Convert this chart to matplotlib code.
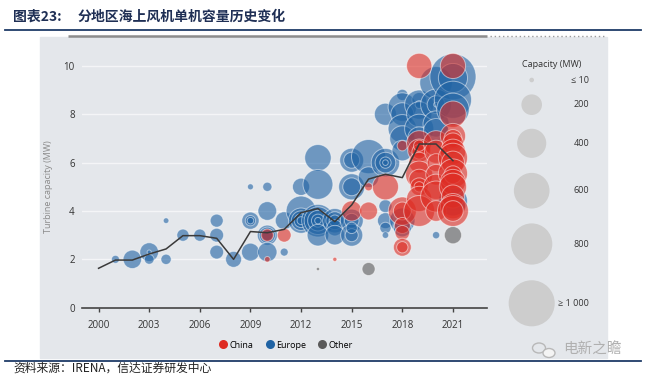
"""分地区海上风机单机容量历史变化 - bubble chart"""
import matplotlib
matplotlib.use('Agg')
import matplotlib.pyplot as plt
from matplotlib.lines import Line2D
from matplotlib.patches import Ellipse
import numpy as np

plt.rcParams['font.family'] = ['Open Sans', 'DejaVu Sans']

# ── data: (year, turbine MW, farm capacity MW) ──
europe = [
    (2001, 2.0, 30), (2002, 2.0, 160), (2003, 2.3, 165), (2003, 2.0, 45), (2003, 2.3, 8),
    (2004, 2.0, 50), (2004, 3.6, 15), (2005, 3.0, 70), (2006, 3.0, 70),
    (2007, 3.6, 80), (2007, 3.0, 90), (2007, 2.3, 90), (2008, 2.0, 120),
    (2009, 5.0, 17), (2009, 3.6, 140), (2009, 3.6, 50), (2009, 3.6, 20), (2009, 2.3, 150),
    (2010, 5.0, 40), (2010, 4.0, 165), (2010, 3.0, 190), (2010, 3.0, 120), (2010, 3.0, 60),
    (2010, 2.3, 175), (2011, 3.6, 150), (2011, 2.3, 30),
    (2012, 5.0, 140), (2012, 4.0, 420), (2012, 3.6, 300), (2012, 3.6, 180), (2012, 3.6, 90),
    (2012, 3.6, 30), (2013, 6.2, 330), (2013, 5.1, 420), (2013, 3.6, 500), (2013, 3.6, 360),
    (2013, 3.6, 200), (2013, 3.6, 80), (2013, 3.0, 220), (2013, 3.6, 20),
    (2014, 3.6, 280), (2014, 3.6, 150), (2014, 3.6, 60), (2014, 3.3, 120), (2014, 3.0, 180),
    (2015, 6.1, 270), (2015, 6.1, 120), (2015, 5.0, 320), (2015, 5.0, 150), (2015, 3.6, 250),
    (2015, 3.6, 100), (2015, 3.0, 230), (2015, 3.0, 80), (2015, 3.3, 60),
    (2016, 6.25, 550), (2016, 5.4, 200),
    (2017, 8.0, 230), (2017, 6.0, 380), (2017, 6.0, 200), (2017, 6.0, 60), (2017, 6.0, 15),
    (2017, 4.2, 80), (2017, 3.6, 120), (2017, 3.3, 60), (2017, 3.0, 20),
    (2018, 8.8, 60), (2018, 8.3, 380), (2018, 8.0, 250), (2018, 7.4, 380), (2018, 7.0, 300),
    (2018, 6.5, 200), (2018, 3.6, 300), (2018, 3.3, 150),
    (2019, 8.6, 100), (2019, 8.4, 400), (2019, 8.4, 30), (2019, 8.0, 300), (2019, 7.4, 400),
    (2019, 7.0, 250),
    (2020, 9.3, 500), (2020, 8.4, 450), (2020, 8.4, 150), (2020, 8.4, 10), (2020, 7.6, 320),
    (2020, 7.3, 300), (2020, 3.0, 25),
    (2021, 9.55, 1000), (2021, 9.5, 400), (2021, 8.6, 650), (2021, 8.2, 500), (2021, 4.4, 400),
]

china = [
    (2010, 3.0, 75), (2010, 2.0, 15), (2011, 3.0, 90), (2014, 2.0, 8),
    (2015, 4.0, 190), (2016, 5.0, 30), (2016, 4.0, 150), (2017, 5.0, 320),
    (2018, 6.7, 50), (2018, 4.0, 370), (2018, 4.0, 150), (2018, 3.4, 120), (2018, 3.1, 100),
    (2018, 2.5, 150), (2018, 2.5, 60),
    (2019, 10.0, 300), (2019, 6.8, 300), (2019, 6.5, 250), (2019, 6.45, 100), (2019, 6.0, 200),
    (2019, 5.5, 350), (2019, 5.3, 200), (2019, 5.0, 150), (2019, 5.0, 50), (2019, 4.5, 300),
    (2019, 4.0, 450), (2019, 6.7, 60),
    (2020, 6.8, 300), (2020, 6.45, 250), (2020, 6.0, 150), (2020, 5.5, 200), (2020, 5.0, 300),
    (2020, 4.6, 450), (2020, 4.0, 200),
    (2021, 10.0, 300), (2021, 8.0, 330), (2021, 7.1, 300), (2021, 7.0, 150), (2021, 6.8, 200),
    (2021, 6.45, 300), (2021, 6.2, 400), (2021, 6.0, 250), (2021, 5.55, 400), (2021, 5.5, 150),
    (2021, 5.2, 300), (2021, 5.0, 350), (2021, 4.6, 250), (2021, 4.2, 300), (2021, 4.0, 450),
    (2021, 4.0, 200),
]

other = [(2013, 1.6, 5), (2016, 1.6, 80), (2021, 3.0, 140)]

# 年均单机容量
avg_years = list(range(2000, 2022))
avg_mw = [1.63, 1.97, 1.97, 2.22, 2.43, 2.98, 2.98, 2.87, 2.0, 3.15, 3.1,
          3.24, 3.93, 4.1, 3.56, 4.25, 5.32, 5.52, 5.38, 6.77, 6.77, 6.08]

legend_caps = [10, 200, 400, 600, 800, 1000]
legend_labels = ['≤ 10', '200', '400', '600', '800', '≥ 1 000']

colors = {'China': '#de2b22', 'Europe': '#2063a4', 'Other': '#5a5a5a'}
SIZE_K = 1.1  # pt^2 per MW of farm capacity

W, H = 646, 374
fig = plt.figure(figsize=(W / 100, H / 100), dpi=100)
fig.patch.set_facecolor('white')

# ── background / decorations in pixel coords ──
bg = fig.add_axes([0, 0, 1, 1], zorder=0)
bg.set_xlim(0, W)
bg.set_ylim(H, 0)
bg.axis('off')
bg.add_patch(plt.Rectangle((40, 37), 567, 321, color='#e4e7eb', zorder=0))
bg.plot([5, 641], [29.5, 29.5], color='#1f3c68', lw=1.3)
bg.plot([5, 641], [361, 361], color='#1f3c68', lw=1.3)
bg.plot([68, 487], [35.7, 35.7], color='#8c8c8c', lw=1.8, solid_capstyle='butt')
bg.plot([490, 605], [35.7, 35.7], color='#9a9a9a', lw=1.0, ls=(0, (1, 2)))

cjk = ['Noto Sans CJK SC', 'DejaVu Sans']
bg.text(13, 17, '图表23:', family=cjk, fontsize=10, fontweight='bold',
        color='#1f2f55', va='center')
bg.text(78, 17, '分地区海上风机单机容量历史变化', family=cjk, fontsize=10,
        fontweight='bold', color='#1f2f55', va='center')
bg.text(13, 368, '资料来源：IRENA，信达证券研发中心', family=cjk, fontsize=8.5,
        color='#222222', va='center')
# 水印
bg.add_patch(Ellipse((539, 348), 13, 10, fill=False, ec='#b8b8b8', lw=1.0))
bg.add_patch(Ellipse((549, 353), 12, 9, fc='#f4f4f4', ec='#b8b8b8', lw=1.0))
bg.text(563, 350, '电新之瞻', family=cjk, fontsize=10.5, color='#b0b0b0', va='center')

# size legend
bg.text(552, 64, 'Capacity (MW)', fontsize=6.5, color='#333333', ha='center', va='center')
leg_y = [80, 104.7, 143.3, 190.7, 244, 303.3]
for cy, cap, lab in zip(leg_y, legend_caps, legend_labels):
    bg.scatter([531.7], [cy], s=SIZE_K * cap, color='#cdcdcd', edgecolors='none')
    bg.text(589, cy, lab, fontsize=6.5, color='#333333', ha='right', va='center')

# ── main axes ──
ax = fig.add_axes([81.7 / W, 1 - 307.7 / H, 405 / W, 272 / H], zorder=1)
ax.set_facecolor('none')

for name, pts in [('Europe', europe), ('China', china), ('Other', other)]:
    arr = np.array(pts, dtype=float)
    face = matplotlib.colors.to_rgba(colors[name], 0.6)
    ax.scatter(arr[:, 0], arr[:, 1], s=SIZE_K * arr[:, 2], color=face,
               edgecolors=(1, 1, 1, 0.5), linewidths=0.7, zorder=3)

ax.plot(avg_years, avg_mw, color='#3a3a3a', lw=1.1, zorder=5)

ax.set_xlim(1999, 2023)
ax.set_ylim(0, 11.25)
ax.set_xticks(range(2000, 2022, 3))
ax.set_yticks([0, 2, 4, 6, 8, 10])
ax.tick_params(axis='x', length=3, width=1, color='#444444', pad=6,
               labelsize=7, labelcolor='#333333')
ax.tick_params(axis='y', length=0, pad=5, labelsize=7, labelcolor='#333333')
ax.yaxis.grid(True, color='#f4f5f7', lw=1.0, zorder=0)
ax.set_axisbelow(True)
for s in ['top', 'right', 'left']:
    ax.spines[s].set_visible(False)
ax.spines['bottom'].set_color('#444444')
ax.spines['bottom'].set_linewidth(1.2)
ax.set_ylabel('Turbine capacity (MW)', fontsize=6.5, color='#8a8a8a')
ax.yaxis.set_label_coords(-0.072, 0.445)

handles = [Line2D([], [], ls='none', marker='o', markersize=6.5,
                  markerfacecolor=colors[k], markeredgecolor='none', label=k)
           for k in ['China', 'Europe', 'Other']]
fig.legend(handles=handles, loc='center', bbox_to_anchor=(286 / W, 1 - 345 / H),
           ncol=3, frameon=False, fontsize=6.5, handletextpad=0.2,
           columnspacing=1.3, handlelength=1.0)

fig.savefig('out.png', dpi=100, facecolor='white')
plt.close()
